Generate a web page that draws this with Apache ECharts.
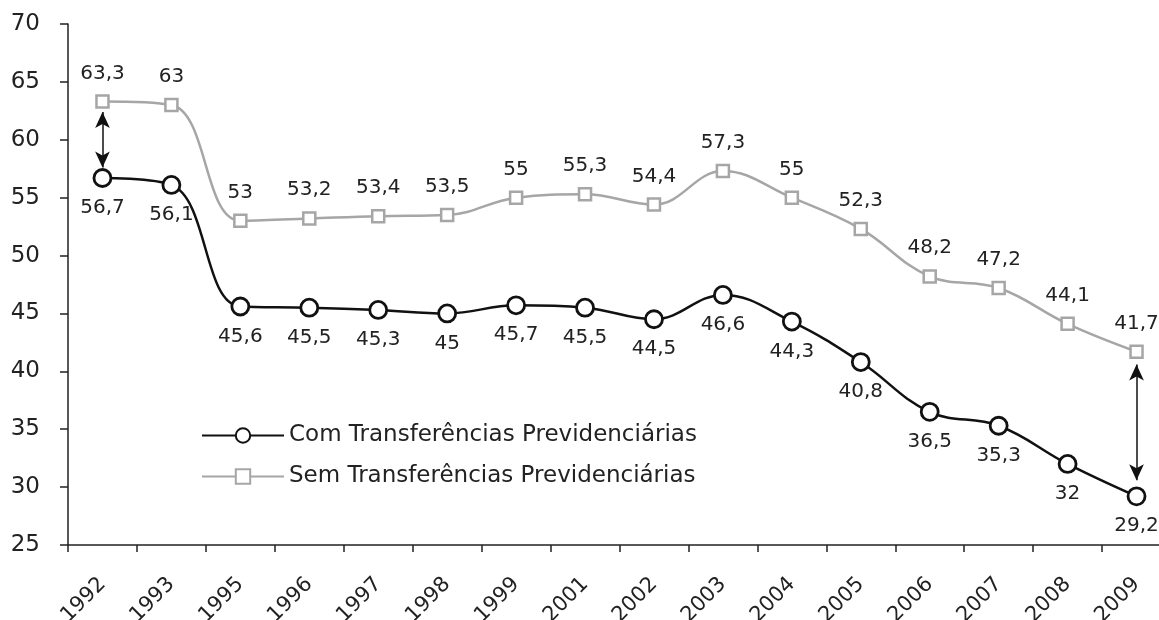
<!DOCTYPE html>
<html>
<head>
  <meta charset="utf-8">
  <title>Transferências Previdenciárias</title>
  <script src="https://cdn.jsdelivr.net/npm/echarts@6/dist/echarts.min.js"></script>
  <style>
    html, body { margin: 0; padding: 0; background: #fff; }
    #chart { width: 1159px; height: 620px; }
  </style>
</head>
<body>
  <div id="chart"></div>
  <script>
    // dados
    let years = ['1992', '1993', '1995', '1996', '1997', '1998', '1999', '2001', '2002', '2003', '2004', '2005', '2006', '2007', '2008', '2009'];
    let comTransf = [56.7, 56.1, 45.6, 45.5, 45.3, 45, 45.7, 45.5, 44.5, 46.6, 44.3, 40.8, 36.5, 35.3, 32, 29.2];
    let semTransf = [63.3, 63, 53, 53.2, 53.4, 53.5, 55, 55.3, 54.4, 57.3, 55, 52.3, 48.2, 47.2, 44.1, 41.7];
    let yTicks = { min: 25, max: 70, interval: 5 };

    let fmt = function (p) { return String(p.value).replace('.', ','); };
    let txt = '#222';

    let myChart = echarts.init(document.getElementById('chart'));
    let option = {
      animation: false,
      grid: { left: 68, right: -12, top: 24, bottom: 75, containLabel: false, outerBoundsMode: 'none' },
      legend: {
        orient: 'vertical',
        left: 196,
        top: 419,
        itemWidth: 82,
        itemHeight: 18,
        itemGap: 18,
        textStyle: { fontFamily: 'DejaVu Sans', fontSize: 23, color: txt },
        data: ['Com Transferências Previdenciárias', 'Sem Transferências Previdenciárias']
      },
      xAxis: {
        type: 'category',
        data: years,
        boundaryGap: true,
        axisLine: { lineStyle: { color: '#222', width: 1.5 } },
        axisTick: { show: true, length: 7, lineStyle: { color: '#222', width: 1.5 } },
        axisLabel: { rotate: 45, margin: 36, fontFamily: 'DejaVu Sans', fontSize: 21, color: txt }
      },
      yAxis: {
        type: 'value',
        min: yTicks.min,
        max: yTicks.max,
        interval: yTicks.interval,
        splitLine: { show: false },
        axisLine: { show: true, lineStyle: { color: '#222', width: 1.5 } },
        axisTick: { show: true, length: 8, lineStyle: { color: '#222', width: 1.5 } },
        axisLabel: { margin: 28, fontFamily: 'DejaVu Sans', fontSize: 23, color: txt }
      },
      series: [
        {
          name: 'Com Transferências Previdenciárias',
          type: 'line',
          data: comTransf,
          smooth: 0.4,
          symbol: 'circle',
          symbolSize: 17,
          lineStyle: { color: '#111', width: 2.5 },
          itemStyle: { color: '#fff', borderColor: '#111', borderWidth: 2.8 },
          label: {
            show: true, position: 'bottom', distance: 10, formatter: fmt,
            fontFamily: 'DejaVu Sans', fontSize: 20, color: txt
          },
          markLine: {
            silent: true,
            symbol: ['arrow', 'arrow'],
            symbolSize: [11, 16],
            label: { show: false },
            lineStyle: { color: '#111', width: 1.5, type: 'solid' },
            data: [
              [{ coord: ['1992', 57.6] }, { coord: ['1992', 62.4] }],
              [{ coord: ['2009', 30.6] }, { coord: ['2009', 40.6] }]
            ]
          },
          z: 3
        },
        {
          name: 'Sem Transferências Previdenciárias',
          type: 'line',
          data: semTransf,
          smooth: 0.4,
          symbol: 'rect',
          symbolSize: 12,
          lineStyle: { color: '#a6a6a6', width: 2.5 },
          itemStyle: { color: '#fff', borderColor: '#a6a6a6', borderWidth: 2.5 },
          label: {
            show: true, position: 'top', distance: 11, formatter: fmt,
            fontFamily: 'DejaVu Sans', fontSize: 20, color: txt
          },
          z: 2
        }
      ]
    };
    myChart.setOption(option);
  </script>
</body>
</html>
